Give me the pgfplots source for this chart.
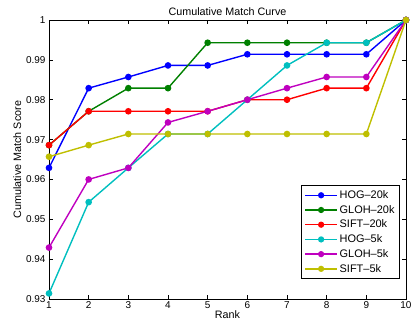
\documentclass[border=0pt]{standalone}
\usepackage{fontspec}
\setmainfont{Liberation Sans}
\usepackage{pgfplots}
\pgfplotsset{compat=1.18}
\definecolor{mblue}{rgb}{0,0,1}
\definecolor{mgreen}{rgb}{0,0.5,0}
\definecolor{mred}{rgb}{1,0,0}
\definecolor{mcyan}{rgb}{0,0.75,0.75}
\definecolor{mmag}{rgb}{0.75,0,0.75}
\definecolor{myel}{rgb}{0.75,0.75,0}
\begin{document}
\begin{tikzpicture}
\begin{axis}[
  scale only axis, width=357bp, height=279bp,
  xmin=1, xmax=10, ymin=0.93, ymax=1,
  xtick={1,...,10},
  ytick={0.93,0.94,0.95,0.96,0.97,0.98,0.99,1},
  yticklabels={0.93,0.94,0.95,0.96,0.97,0.98,0.99,1},
  tick align=inside, tick pos=both,
  major tick length=4bp,
  axis line style={line width=0.8pt},
  tick style={black, line width=0.5pt},
  /pgf/number format/assume math mode=true,
  tick label style={font=\fontsize{10}{12}\selectfont},
  xticklabel style={yshift=1bp},
  label style={font=\fontsize{10.8}{13}\selectfont},
  title style={font=\fontsize{10.8}{13}\selectfont, yshift=-5bp},
  title={Cumulative Match Curve},
  xlabel={Rank}, ylabel={Cumulative Match Score},
  xlabel style={yshift=5bp}, ylabel style={yshift=-2bp},
  every axis plot/.append style={line width=1.4pt, mark=*, mark size=2.6pt},
  legend cell align=left,
  legend style={at={(rel axis cs:0.983,0.0717)}, anchor=south east,
    font=\fontsize{11}{13}\selectfont, draw=black, line width=0.9pt,
    row sep=1.3pt, inner xsep=3pt, inner ysep=3pt},
  legend image code/.code={\draw[#1, line width=1.4pt] (0cm,0cm) -- (1.12cm,0cm); \fill[#1] (0.56cm,0cm) circle (2.4pt);},
  clip=false,
]
\addplot[mblue] coordinates {(1,0.9629)(2,0.9829)(3,0.9857)(4,0.9886)(5,0.9886)(6,0.9914)(7,0.9914)(8,0.9914)(9,0.9914)(10,1)};
\addplot[mgreen] coordinates {(1,0.9686)(2,0.9771)(3,0.9829)(4,0.9829)(5,0.9943)(6,0.9943)(7,0.9943)(8,0.9943)(9,0.9943)(10,1)};
\addplot[mred] coordinates {(1,0.9686)(2,0.9771)(3,0.9771)(4,0.9771)(5,0.9771)(6,0.98)(7,0.98)(8,0.9829)(9,0.9829)(10,1)};
\addplot[mcyan] coordinates {(1,0.9314)(2,0.9543)(3,0.9629)(4,0.9714)(5,0.9714)(6,0.98)(7,0.9886)(8,0.9943)(9,0.9943)(10,1)};
\addplot[mmag] coordinates {(1,0.9429)(2,0.96)(3,0.9629)(4,0.9743)(5,0.9771)(6,0.98)(7,0.9829)(8,0.9857)(9,0.9857)(10,1)};
\addplot[myel] coordinates {(1,0.9657)(2,0.9686)(3,0.9714)(4,0.9714)(5,0.9714)(6,0.9714)(7,0.9714)(8,0.9714)(9,0.9714)(10,1)};
\legend{HOG--20k,GLOH--20k,SIFT--20k,HOG--5k,GLOH--5k,SIFT--5k}
\end{axis}
\pgfresetboundingbox
\path (-49bp,-36bp) rectangle (362bp,299bp);
\end{tikzpicture}
\end{document}
